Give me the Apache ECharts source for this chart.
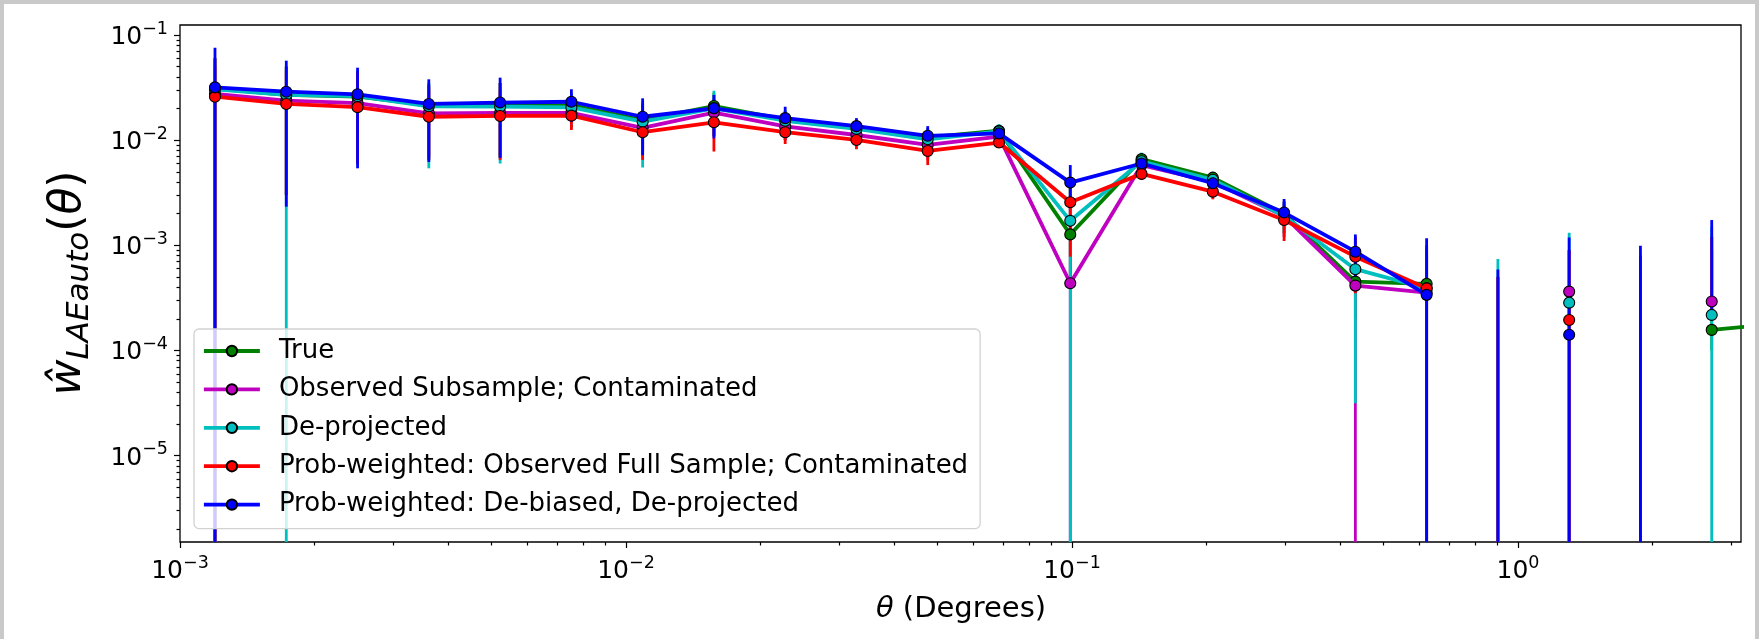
<!DOCTYPE html>
<html>
<head>
<meta charset="utf-8">
<script src="https://cdn.jsdelivr.net/npm/echarts@6/dist/echarts.min.js"></script>
<style>
html, body { margin: 0; padding: 0; background: #c9c9c9; }
#chart { position: absolute; left: 4px; top: 4px; width: 1751px; height: 635px; background: #fff; }
</style>
</head>
<body>
<div id="chart"></div>
<script>
// angular bins (degrees); last one sits past the right edge
const theta = [0.001198, 0.001731, 0.002501, 0.003613, 0.005221, 0.007543, 0.010897, 0.015744,
  0.022747, 0.032864, 0.047482, 0.068601, 0.09911, 0.14320, 0.20688, 0.29891, 0.43186,
  0.62394, 0.90145, 1.3024, 1.8817, 2.7187, 3.928];

const seriesNames = ['True', 'Observed Subsample; Contaminated', 'De-projected',
  'Prob-weighted: Observed Full Sample; Contaminated', 'Prob-weighted: De-biased, De-projected'];
const seriesColors = ['#008000', '#bf00bf', '#00bfbf', '#ff0000', '#0000ff'];

// null = not positive, not drawn on the log axis
const wTrue = [0.031, 0.027, 0.026, 0.0215, 0.0215, 0.0215, 0.0155, 0.0211, 0.0158, 0.0133, 0.0106, 0.0123,
  0.00127, 0.0066, 0.0044, 0.0020, 0.000452, 0.00043, null, null, null, 0.000157, 0.000182];
const wObs = [0.0275, 0.0238, 0.0225, 0.0180, 0.0182, 0.0182, 0.0131, 0.0183, 0.0135, 0.0112, 0.0090, 0.0108,
  0.000436, 0.0058, 0.0040, 0.0019, 0.000414, 0.000355, null, 0.000363, null, 0.000292, null];
const wDeproj = [0.0305, 0.027, 0.0262, 0.021, 0.0208, 0.0205, 0.0150, 0.0201, 0.0153, 0.0128, 0.0102, 0.0121,
  0.00171, 0.0063, 0.0042, 0.0019, 0.000593, 0.00039, null, 0.000285, null, 0.000218, null];
const wProbObs = [0.0259, 0.0221, 0.0206, 0.0167, 0.0170, 0.0171, 0.0119, 0.0148, 0.0119, 0.01005, 0.0079, 0.0095,
  0.00257, 0.00478, 0.00324, 0.00174, 0.00078, 0.00039, null, 0.000195, null, null, null];
const wProbDebias = [0.0318, 0.0289, 0.0273, 0.0221, 0.0228, 0.0232, 0.0167, 0.0201, 0.0162, 0.0136, 0.0110, 0.0116,
  0.00395, 0.0060, 0.0039, 0.00205, 0.00087, 0.000338, null, 0.000141, null, null, null];

// error bar ends; lower null = runs below the axis
const loTrue = [null, 0.003, 0.006, 0.0065, 0.0068, 0.013, 0.008, 0.011, 0.010, 0.0095, 0.007, 0.0095,
  0.0004, 0.005, 0.0034, 0.0013, 0.0002, null, null, null, null, 0.0001];
const hiTrue = [0.06, 0.05, 0.045, 0.034, 0.035, 0.027, 0.022, 0.028, 0.019, 0.0155, 0.013, 0.014,
  0.0035, 0.0075, 0.0049, 0.0026, 0.0009, 0.0009, 0.0005, 0.0009, 0.0006, 0.0012];
const loObs = [null, 0.003, 0.006, 0.007, 0.007, 0.013, 0.008, 0.011, 0.010, 0.009, 0.0065, 0.0088,
  null, 0.0047, 0.0032, 0.0012, null, null, null, null, null, 0.0002];
const hiObs = [0.05, 0.045, 0.04, 0.03, 0.03, 0.024, 0.02, 0.025, 0.017, 0.014, 0.012, 0.013,
  0.0025, 0.007, 0.0048, 0.0026, 0.0009, 0.0008, 0.0005, 0.0009, 0.0005, 0.0009];
const loDeproj = [null, null, 0.006, 0.0054, 0.0060, 0.013, 0.0055, 0.011, 0.011, 0.0095, 0.007, 0.0100,
  null, 0.005, 0.0035, 0.0013, 0.0000315, null, null, null, null, null];
const hiDeproj = [0.06, 0.05, 0.045, 0.035, 0.035, 0.028, 0.023, 0.0295, 0.019, 0.0155, 0.0125, 0.0142,
  0.0045, 0.0076, 0.0050, 0.0025, 0.00115, 0.001, 0.00074, 0.00132, 0.0007, 0.0015];
const loProbObs = [null, 0.003, 0.006, 0.0065, 0.0065, 0.0125, 0.0065, 0.0078, 0.0092, 0.0082, 0.0058, 0.0085,
  0.00078, 0.0042, 0.00274, 0.0011, 0.00035, null, null, null, null, 0.00025];
const hiProbObs = [0.06, 0.05, 0.045, 0.033, 0.035, 0.024, 0.022, 0.024, 0.016, 0.0125, 0.0105, 0.011,
  0.0044, 0.0055, 0.0038, 0.0024, 0.0012, 0.001, 0.0005, 0.0009, 0.0008, 0.0012];
const loProbDebias = [null, 0.00233, 0.0054, 0.0062, 0.0068, 0.015, 0.0072, 0.0104, 0.0118, 0.0108, 0.0085, 0.0098,
  0.0027, 0.0052, 0.0033, 0.0016, 0.0005, null, null, null, null, 0.00022];
const hiProbDebias = [0.0758, 0.057, 0.0489, 0.0379, 0.0393, 0.0305, 0.025, 0.0269, 0.0208, 0.0162, 0.0136, 0.0132,
  0.0058, 0.0068, 0.0045, 0.00276, 0.00127, 0.00117, 0.00059, 0.00119, 0.00099, 0.00174];

const xMajor = [0.001, 0.01, 0.1, 1];
const xMinor = [0.002, 0.003, 0.004, 0.005, 0.006, 0.007, 0.008, 0.009,
  0.02, 0.03, 0.04, 0.05, 0.06, 0.07, 0.08, 0.09,
  0.2, 0.3, 0.4, 0.5, 0.6, 0.7, 0.8, 0.9, 2, 3];
const yMajor = [1e-5, 1e-4, 1e-3, 1e-2, 1e-1];
const yMinor = [2e-6, 3e-6, 4e-6, 5e-6, 6e-6, 7e-6, 8e-6, 9e-6,
  2e-5, 3e-5, 4e-5, 5e-5, 6e-5, 7e-5, 8e-5, 9e-5,
  2e-4, 3e-4, 4e-4, 5e-4, 6e-4, 7e-4, 8e-4, 9e-4,
  2e-3, 3e-3, 4e-3, 5e-3, 6e-3, 7e-3, 8e-3, 9e-3,
  2e-2, 3e-2, 4e-2, 5e-2, 6e-2, 7e-2, 8e-2, 9e-2];

const X_MIN = 0.001, X_MAX = 3.1623;
const Y_MIN = 1.51e-6, Y_MAX = 0.1245;

const values = [wTrue, wObs, wDeproj, wProbObs, wProbDebias];
const lows = [loTrue, loObs, loDeproj, loProbObs, loProbDebias];
const highs = [hiTrue, hiObs, hiDeproj, hiProbObs, hiProbDebias];

const FONT = 'DejaVu Sans';
const LINE_W = 3.8;
const tickRich = {
  b: { fontFamily: FONT, fontSize: 25, lineHeight: 30, verticalAlign: 'bottom', color: '#000' },
  s: { fontFamily: FONT, fontSize: 17.5, lineHeight: 17, verticalAlign: 'top', color: '#000' }
};
const powLabel = (v) => {
  const e = Math.round(Math.log10(v));
  return '{b|10}{s|' + (e < 0 ? '\u2212' + (-e) : String(e)) + '}';
};
const tickLine = { color: '#000', width: 1.2 };

const chart = echarts.init(document.getElementById('chart'));

const errorSeries = values.map((vals, k) => ({
  type: 'custom',
  name: seriesNames[k] + ' err',
  z: 2,
  silent: true,
  clip: true,
  data: highs[k].map((hi, i) => [theta[i], lows[k][i] == null ? Y_MIN : lows[k][i], hi]),
  encode: { x: 0, y: [1, 2] },
  renderItem: (params, api) => {
    const p0 = api.coord([api.value(0), api.value(1)]);
    const p1 = api.coord([api.value(0), api.value(2)]);
    return {
      type: 'line',
      shape: { x1: p0[0], y1: p0[1], x2: p1[0], y2: p1[1] },
      style: { stroke: seriesColors[k], lineWidth: 2.8 }
    };
  }
}));

const lineSeries = values.map((vals, k) => ({
  type: 'line',
  name: seriesNames[k],
  z: 10 + k,
  clip: true,
  data: vals.map((v, i) => [theta[i], v]),
  symbol: 'circle',
  symbolSize: 11,
  showAllSymbol: true,
  lineStyle: { color: seriesColors[k], width: LINE_W },
  itemStyle: { color: seriesColors[k], borderColor: '#000', borderWidth: 1.1 },
  emphasis: { disabled: true }
}));

chart.setOption({
  animation: false,
  grid: { left: 176, top: 21, right: 14, bottom: 97, show: true, borderColor: '#000', borderWidth: 1.3, backgroundColor: '#fff' },
  xAxis: [
    {
      type: 'log', logBase: 10, min: X_MIN, max: X_MAX, position: 'bottom',
      axisLine: { show: false }, splitLine: { show: false },
      axisTick: { show: true, customValues: xMajor, length: 6, lineStyle: tickLine },
      axisLabel: { customValues: xMajor, formatter: powLabel, margin: 12, rich: tickRich }
    },
    {
      type: 'log', logBase: 10, min: X_MIN, max: X_MAX, position: 'bottom',
      axisLine: { show: false }, splitLine: { show: false }, axisLabel: { show: false },
      axisTick: { show: true, customValues: xMinor, length: 3.5, lineStyle: tickLine }
    }
  ],
  yAxis: [
    {
      type: 'log', logBase: 10, min: Y_MIN, max: Y_MAX, position: 'left',
      axisLine: { show: false }, splitLine: { show: false },
      axisTick: { show: true, customValues: yMajor, length: 6, lineStyle: tickLine },
      axisLabel: { customValues: yMajor, formatter: powLabel, margin: 12, rich: tickRich }
    },
    {
      type: 'log', logBase: 10, min: Y_MIN, max: Y_MAX, position: 'left',
      axisLine: { show: false }, splitLine: { show: false }, axisLabel: { show: false },
      axisTick: { show: true, customValues: yMinor, length: 3.5, lineStyle: tickLine }
    }
  ],
  legend: {
    data: seriesNames,
    orient: 'vertical',
    left: 190,
    top: 325,
    itemWidth: 56,
    itemHeight: 13,
    itemGap: 8.4,
    padding: [7, 12, 9, 8],
    backgroundColor: 'rgba(255,255,255,0.8)',
    borderColor: '#d2d2d2',
    borderWidth: 1.3,
    borderRadius: 5,
    selectedMode: false,
    lineStyle: { width: LINE_W },
    textStyle: { fontFamily: FONT, fontSize: 26, color: '#000', lineHeight: 30, padding: [0, 0, 0, 14] }
  },
  graphic: [
    {
      type: 'text', x: 67, y: 279, rotation: Math.PI / 2,
      style: {
        text: '{w|\u0175}{s|LAEauto}{p|(}{t|\u03b8}{p|)}',
        align: 'center', verticalAlign: 'middle',
        rich: {
          w: { fontFamily: FONT, fontSize: 44, fontStyle: 'italic', lineHeight: 48, verticalAlign: 'top', fill: '#000' },
          s: { fontFamily: FONT, fontSize: 31, fontStyle: 'italic', lineHeight: 31, verticalAlign: 'bottom', fill: '#000' },
          p: { fontFamily: FONT, fontSize: 44, lineHeight: 48, verticalAlign: 'top', fill: '#000' },
          t: { fontFamily: FONT, fontSize: 44, fontStyle: 'italic', lineHeight: 48, verticalAlign: 'top', fill: '#000' }
        }
      }
    },
    {
      type: 'text', x: 957, y: 605,
      style: {
        text: '{i|\u03b8} (Degrees)',
        align: 'center', verticalAlign: 'middle',
        fontFamily: FONT, fontSize: 29, fill: '#000',
        rich: {
          i: { fontFamily: FONT, fontSize: 29, fontStyle: 'italic', fill: '#000' }
        }
      }
    }
  ],
  series: errorSeries.concat(lineSeries)
});
</script>
</body>
</html>
